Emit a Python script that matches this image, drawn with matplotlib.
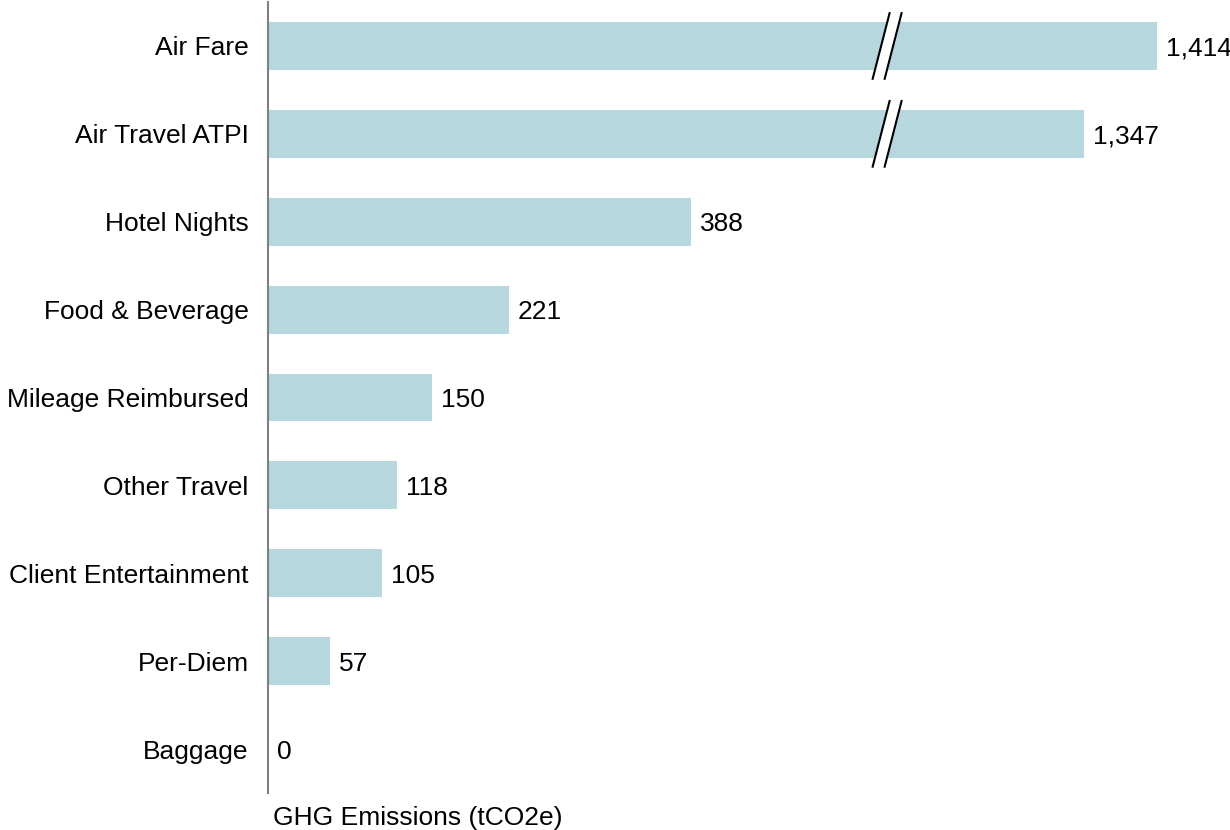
import matplotlib
matplotlib.use("Agg")
import matplotlib.pyplot as plt
from matplotlib.patches import Polygon

plt.rcParams['font.family'] = ['Liberation Sans', 'DejaVu Sans']

categories = ["Air Fare", "Air Travel ATPI", "Hotel Nights", "Food & Beverage",
              "Mileage Reimbursed", "Other Travel", "Client Entertainment",
              "Per-Diem", "Baggage"]
values = [1414, 1347, 388, 221, 150, 118, 105, 57, 0]

BREAK_THRESHOLD = 1000   # values above this are drawn with a broken bar
BREAK_CUT = 598          # amount removed from broken bars
BREAK_POS = 568          # where the break marks sit (data units)

BAR_COLOR = "#b7d7de"
FS = 19

fig = plt.figure(figsize=(12.3, 8.3), dpi=100)
ax = fig.add_axes([268/1230, 1 - 793/830, (1200-268)/1230, (793-2)/830])

ys = list(range(len(categories)))
shown = [v - BREAK_CUT if v > BREAK_THRESHOLD else v for v in values]
bar_h = 0.545
ax.barh(ys, shown, height=bar_h, color=BAR_COLOR, zorder=2)

for y, v, s in zip(ys, values, shown):
    ax.annotate(f"{v:,}", xy=(s, y), xytext=(6.5, 0), textcoords="offset points",
                va="center_baseline", ha="left", fontsize=FS, color="black")
    if v > BREAK_THRESHOLD:
        hh = 0.385   # half height of break marks
        slant = 8.0
        gap = 5.5
        poly = Polygon([(BREAK_POS - gap - slant, y + hh), (BREAK_POS + gap - slant, y + hh),
                        (BREAK_POS + gap + slant, y - hh), (BREAK_POS - gap + slant, y - hh)],
                       closed=True, facecolor="white", edgecolor="none", zorder=3)
        ax.add_patch(poly)
        for d in (-gap, gap):
            ax.plot([BREAK_POS + d - slant, BREAK_POS + d + slant], [y + hh, y - hh],
                    color="black", lw=1.5, zorder=4, solid_capstyle="butt")

ax.set_ylim(len(categories) - 0.5, -0.5)
ax.set_xlim(0, (1200 - 268) / 1.09)
ax.set_yticks(ys)
ax.set_yticklabels(categories, fontsize=FS, va="center_baseline")
ax.tick_params(axis="y", length=0, pad=14)
ax.set_xticks([])
for sp in ["top", "right", "bottom"]:
    ax.spines[sp].set_visible(False)
ax.spines["left"].set_color("#808080")
ax.spines["left"].set_linewidth(1.5)

fig.text(273/1230, 1 - 818/830, "GHG Emissions (tCO2e)", fontsize=FS,
         ha="left", va="center")

fig.savefig("out.png", dpi=100)
